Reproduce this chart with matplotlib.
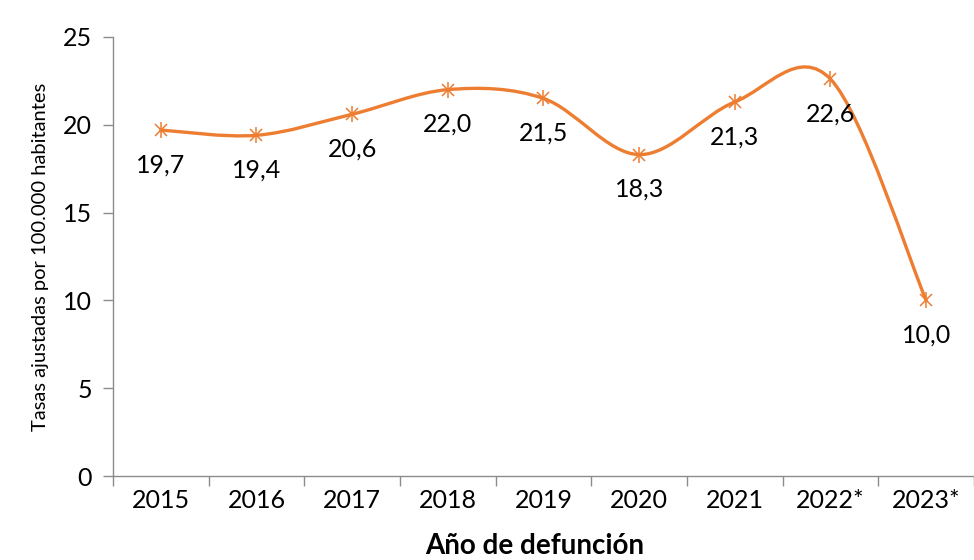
import matplotlib.pyplot as plt
from matplotlib.path import Path
from matplotlib.patches import PathPatch

years = ["2015", "2016", "2017", "2018", "2019", "2020", "2021", "2022*", "2023*"]
rates = [19.7, 19.4, 20.6, 22.0, 21.5, 18.3, 21.3, 22.6, 10.0]
labels = ["19,7", "19,4", "20,6", "22,0", "21,5", "18,3", "21,3", "22,6", "10,0"]

orange = "#ED7D31"
gray = "#8C8C8C"
font = "Lato"

plt.rcParams["font.family"] = [font, "DejaVu Sans"]

fig = plt.figure(figsize=(9.74, 5.6), dpi=100)
ax = fig.add_axes([0.116, 0.15, 0.884, 0.784])

xs = list(range(len(rates)))

# smoothed line (Excel style, Catmull-Rom as cubic bezier segments)
verts = [(xs[0], rates[0])]
codes = [Path.MOVETO]
n = len(rates)
for i in range(n - 1):
    p0 = (xs[max(i - 1, 0)], rates[max(i - 1, 0)])
    p1 = (xs[i], rates[i])
    p2 = (xs[i + 1], rates[i + 1])
    p3 = (xs[min(i + 2, n - 1)], rates[min(i + 2, n - 1)])
    c1 = (p1[0] + (p2[0] - p0[0]) / 6, p1[1] + (p2[1] - p0[1]) / 6)
    c2 = (p2[0] - (p3[0] - p1[0]) / 6, p2[1] - (p3[1] - p1[1]) / 6)
    verts += [c1, c2, p2]
    codes += [Path.CURVE4] * 3
ax.add_patch(PathPatch(Path(verts, codes), fill=False, edgecolor=orange,
                       linewidth=2.4, capstyle="round", zorder=2))

# asterisk markers: an x plus a vertical bar
ax.plot(xs, rates, linestyle="none", marker="x", markersize=9,
        markeredgecolor=orange, markeredgewidth=1.1, zorder=3)
ax.plot(xs, rates, linestyle="none", marker="|", markersize=11,
        markeredgecolor=orange, markeredgewidth=1.1, zorder=3)

for x, y, t in zip(xs, rates, labels):
    ax.annotate(t, (x, y), xytext=(0, -25), textcoords="offset points",
                ha="center", va="center", fontsize=18, color="black")

ax.set_xlim(-0.5, len(rates) - 0.5)
ax.set_ylim(0, 25)
ax.set_yticks([0, 5, 10, 15, 20, 25])
ax.set_yticklabels(["0", "5", "10", "15", "20", "25"])
ax.set_xticks(xs)
ax.set_xticklabels(years)
ax.set_xticks([i - 0.5 for i in range(len(rates) + 1)], minor=True)
ax.tick_params(axis="x", which="major", length=0, pad=9, labelsize=18)
ax.tick_params(axis="x", which="minor", length=7, color=gray, width=1)
ax.tick_params(axis="y", length=7, color=gray, width=1, labelsize=18, pad=8)

for s in ["top", "right"]:
    ax.spines[s].set_visible(False)
for s in ["left", "bottom"]:
    ax.spines[s].set_color(gray)
    ax.spines[s].set_linewidth(1)

ax.set_ylabel("Tasas ajustadas por 100.000 habitantes", fontsize=14.5, labelpad=10)
ax.set_xlabel("Año de defunción", fontsize=20, fontweight="bold",
              verticalalignment="center")
ax.xaxis.set_label_coords(0.49, -0.16)

fig.savefig("out.png", dpi=100)
